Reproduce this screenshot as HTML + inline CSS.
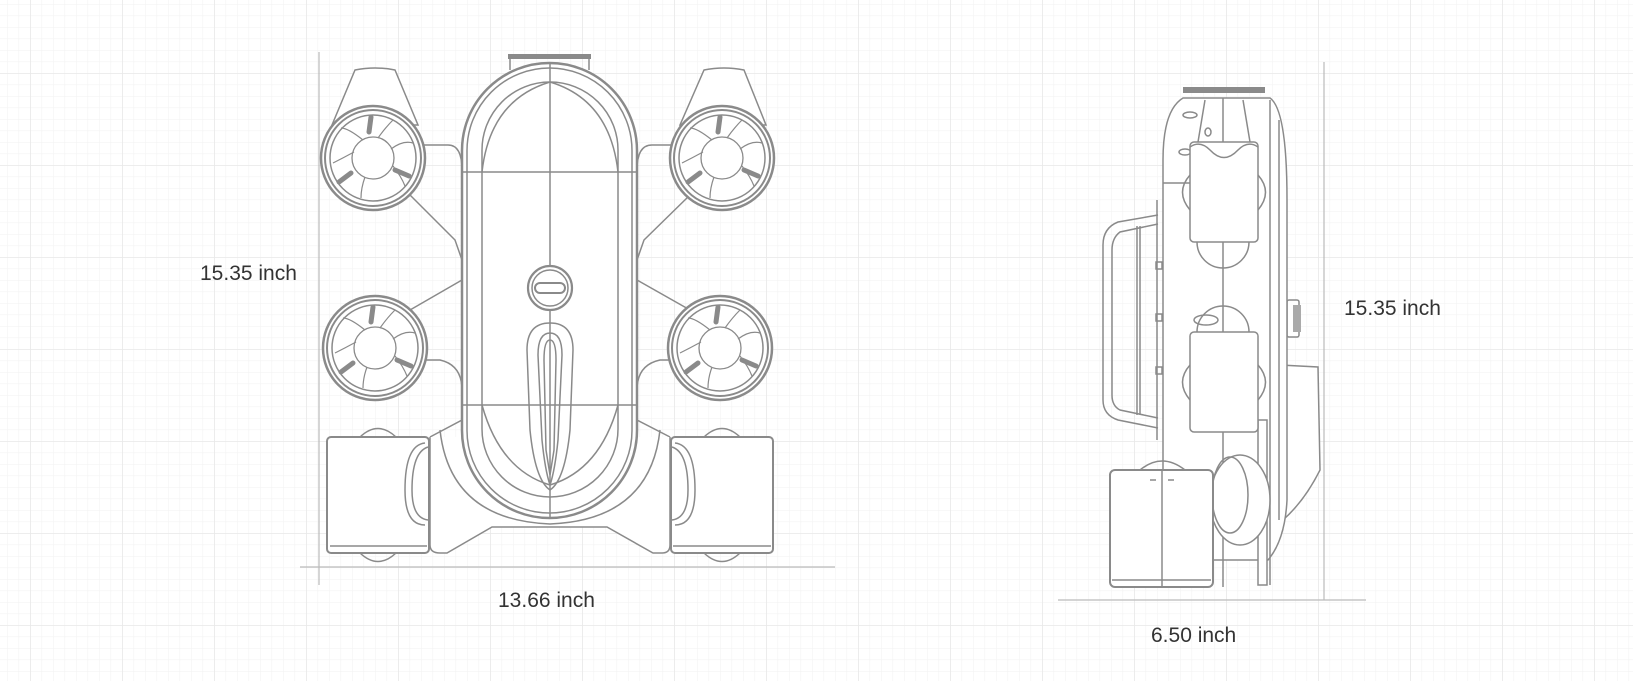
<!DOCTYPE html>
<html><head><meta charset="utf-8"><style>
html,body{margin:0;padding:0;background:#fff;}
svg{display:block;}
text{font-family:"Liberation Sans",sans-serif;font-size:21px;fill:#333;}
</style></head><body>
<svg width="1633" height="681" viewBox="0 0 1633 681" xmlns="http://www.w3.org/2000/svg">
<defs>
<pattern id="minor" x="30" y="73" width="11.5" height="11.5" patternUnits="userSpaceOnUse">
<path d="M0 0V11.5M0 0H11.5" stroke="#f3f3f3" stroke-width="1.2" fill="none"/>
</pattern>
<pattern id="major" x="30" y="73" width="92" height="92" patternUnits="userSpaceOnUse">
<path d="M0 0V92M0 0H92" stroke="#e8e8e8" stroke-width="1.6" fill="none"/>
</pattern>
<g id="thr">
<circle r="52" fill="#fff" stroke="#8a8a8a" stroke-width="2.5"/>
<circle r="48" fill="none" stroke="#8a8a8a" stroke-width="2"/>
<circle r="43" fill="none" stroke="#8a8a8a" stroke-width="1.5"/>
<circle r="21" fill="none" stroke="#8a8a8a" stroke-width="1.3"/>
<g stroke="#8a8a8a" stroke-width="1.2" fill="none">
<path d="M-10 -18 Q-25 -30 -32 -30 M18 -9 Q30 -18 40 -15 M-8 19 Q-12 30 -12 40 M20 8 Q28 18 32 28 M-19 -6 Q-30 0 -40 5 M5 -20 Q12 -30 20 -38"/>
</g>
<g stroke="#8a8a8a" stroke-width="5" stroke-linecap="round">
<path d="M-4 -26 L-2 -41"/><path d="M-22 15 L-34 24"/><path d="M22 12 L36 18"/>
</g>
</g>
</defs>
<rect width="1633" height="681" fill="#fff"/>
<rect width="1633" height="681" fill="url(#minor)"/>
<rect width="1633" height="681" fill="url(#major)"/>

<g stroke="#bbb" stroke-width="1.2">
<line x1="319" y1="52" x2="319" y2="585"/>
<line x1="300" y1="567" x2="835" y2="567"/>
<line x1="1324" y1="62" x2="1324" y2="600"/>
<line x1="1058" y1="600" x2="1366" y2="600"/>
</g>

<!-- FRONT VIEW -->
<g stroke="#8a8a8a" stroke-width="1.5" fill="none">
<path d="M355 70 Q375 66 395 70 L418 125 L332 125 Z" fill="#fff"/>
<path d="M704 70 Q724 66 744 70 L766 125 L680 125 Z" fill="#fff"/>
<path d="M418 145 L448 145 Q462 145 462 170 L462 260 L455 240 L410 195"/>
<path d="M682 145 L652 145 Q637 145 637 170 L637 260 L644 240 L690 195"/>
<path d="M462 280 L410 310 M418 360 L440 360 Q462 365 462 390 L462 420 L430 437"/>
<path d="M637 280 L690 310 M682 360 L660 360 Q637 365 637 390 L637 420 L670 437"/>
<path d="M430 437 L430 545 Q430 553 440 553 L447 553 L492 527 L607 527 L653 553 L662 553 Q670 553 670 545 L670 437" fill="#fff"/>
<path d="M440 430 Q450 520 550 524 Q650 520 660 430"/>
<rect x="462" y="63" width="175" height="455" rx="87.5" fill="#fff" stroke-width="2.5"/>
<rect x="467" y="68" width="165" height="445" rx="82.5"/>
<rect x="482" y="82" width="136" height="415" rx="68"/>
<path d="M482 172 Q490 100 550 82 Q610 100 618 172"/>
<path d="M482 405 Q500 470 550 485 Q600 470 618 405"/>
<line x1="462" y1="172" x2="637" y2="172"/>
<line x1="462" y1="405" x2="637" y2="405"/>
<line x1="550" y1="63" x2="550" y2="268"/>
<line x1="550" y1="308" x2="550" y2="518"/>
<circle cx="550" cy="288" r="22" stroke-width="2.2" fill="#fff"/>
<circle cx="550" cy="288" r="18"/>
<rect x="535" y="283" width="30" height="10" rx="5" stroke-width="2"/>
<path d="M550 323 Q573 323 573 350 L570 430 Q565 480 550 490 Q535 480 530 430 L527 350 Q527 323 550 323 Z"/>
<path d="M550 333 Q562 333 562 355 L558 440 Q555 470 550 485 Q545 470 542 440 L538 355 Q538 333 550 333 Z"/>
<path d="M550 340 Q556 340 556 360 L554 450 L550 475 L546 450 L544 360 Q544 340 550 340 Z"/>
<rect x="508" y="54" width="83" height="5" fill="#8a8a8a" stroke="none"/>
<line x1="510" y1="59" x2="510" y2="70"/><line x1="589" y1="59" x2="589" y2="70"/>
<path d="M360 437 Q378 420 396 437 M360 553 Q378 570 396 553"/>
<path d="M704 437 Q722 420 740 437 M704 553 Q722 570 740 553"/>
<rect x="327" y="437" width="102" height="116" rx="4" fill="#fff" stroke-width="2"/>
<line x1="330" y1="546" x2="427" y2="546"/>
<rect x="671" y="437" width="102" height="116" rx="4" fill="#fff" stroke-width="2"/>
<line x1="673" y1="546" x2="771" y2="546"/>
<path d="M425 443 Q405 445 405 490 Q405 525 425 525 M428 447 Q412 452 412 490 Q412 518 428 520"/>
<path d="M675 443 Q695 445 695 490 Q695 525 675 525 M672 447 Q688 452 688 490 Q688 518 672 520"/>
</g>
<use href="#thr" x="373" y="158"/>
<use href="#thr" x="722" y="158"/>
<use href="#thr" x="375" y="348"/>
<use href="#thr" x="720" y="348"/>

<!-- SIDE VIEW -->
<g stroke="#8a8a8a" stroke-width="1.5" fill="none">
<path d="M1280 365 L1318 367 L1320 470 Q1300 510 1270 530" fill="#fff"/>
<rect x="1287" y="300" width="12" height="37" rx="2" fill="#fff"/>
<rect x="1293" y="305" width="8" height="27" fill="#aaa" stroke="none"/>
<path d="M1183 98 L1270 98 Q1287 110 1287 200 L1287 500 Q1285 540 1268 560 L1163 560 L1163 160 Q1163 110 1183 98 Z" fill="#fff"/>
<line x1="1270" y1="100" x2="1270" y2="585"/>
<line x1="1279" y1="120" x2="1279" y2="520"/>
<line x1="1223" y1="98" x2="1223" y2="587"/>
<line x1="1163" y1="183" x2="1190" y2="183"/>
<rect x="1258" y="420" width="9" height="165" fill="#fff"/>
<ellipse cx="1190" cy="115" rx="7" ry="3"/>
<ellipse cx="1208" cy="132" rx="3" ry="4"/>
<ellipse cx="1185" cy="152" rx="6" ry="3"/>
<!-- upper thruster -->
<path d="M1197 242 A26 26 0 0 0 1249 242"/>
<path d="M1190 175 Q1175 192 1190 210 M1258 175 Q1273 192 1258 210"/>
<rect x="1190" y="142" width="68" height="100" rx="4" fill="#fff"/>
<path d="M1190 147 Q1200 140 1210 150 Q1224 165 1238 150 Q1248 140 1258 147"/>
<path d="M1205 100 L1198 142 M1243 100 L1250 142"/>
<!-- lower thruster -->
<path d="M1197 332 A26 26 0 0 1 1249 332"/>
<ellipse cx="1206" cy="320" rx="12" ry="5"/>
<path d="M1190 365 Q1175 382 1190 400 M1258 365 Q1273 382 1258 400"/>
<rect x="1190" y="332" width="68" height="100" rx="4" fill="#fff"/>
<!-- handle -->
<path d="M1158 215 L1118 222 Q1103 228 1103 245 L1103 400 Q1103 415 1118 420 L1158 428"/>
<path d="M1158 224 L1120 232 Q1112 238 1112 250 L1112 395 Q1112 406 1120 410 L1158 418"/>
<line x1="1137" y1="226" x2="1137" y2="415"/><line x1="1140" y1="226" x2="1140" y2="415"/>
<line x1="1157" y1="200" x2="1157" y2="440"/>
<rect x="1156" y="262" width="6" height="7"/><rect x="1156" y="314" width="6" height="7"/><rect x="1156" y="367" width="6" height="7"/>
<!-- rear thruster -->
<ellipse cx="1240" cy="500" rx="30" ry="45" fill="#fff"/>
<ellipse cx="1230" cy="495" rx="18" ry="38"/>
<!-- bottom box -->
<path d="M1140 470 Q1162 452 1185 470"/>
<rect x="1110" y="470" width="103" height="117" rx="5" fill="#fff" stroke-width="2"/>
<line x1="1162" y1="470" x2="1162" y2="587"/>
<line x1="1112" y1="580" x2="1211" y2="580"/>
<path d="M1150 480 H1156 M1168 480 H1174"/>
<rect x="1183" y="87" width="82" height="6" fill="#8a8a8a" stroke="none"/>
</g>

<text x="200" y="280">15.35 inch</text>
<text x="498" y="607">13.66 inch</text>
<text x="1344" y="315">15.35 inch</text>
<text x="1151" y="642">6.50 inch</text>
</svg>
</body></html>
